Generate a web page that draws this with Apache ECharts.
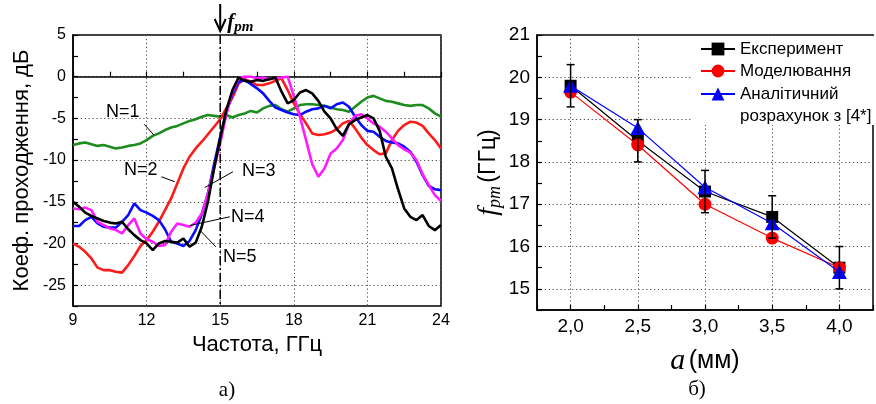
<!DOCTYPE html>
<html><head><meta charset="utf-8">
<script src="https://cdn.jsdelivr.net/npm/echarts@6/dist/echarts.min.js"></script>
<style>html,body{margin:0;padding:0;background:#fff}#c{width:876px;height:404px}</style>
</head><body><div id="c"></div><script>
// ---------- Panel a) data ----------
const freq = [
  9.00, 9.25, 9.50, 9.75, 10.00, 10.25, 10.50, 10.75, 11.00, 11.25, 11.50, 11.75,
  12.00, 12.25, 12.50, 12.75, 13.00, 13.25, 13.50, 13.75, 14.00, 14.25, 14.50, 14.75,
  15.00, 15.25, 15.50, 15.75, 16.00, 16.25, 16.50, 16.75, 17.00, 17.25, 17.50, 17.75,
  18.00, 18.25, 18.50, 18.75, 19.00, 19.25, 19.50, 19.75, 20.00, 20.25, 20.50, 20.75,
  21.00, 21.25, 21.50, 21.75, 22.00, 22.25, 22.50, 22.75, 23.00, 23.25, 23.50, 23.75, 24.00
];
const n1 = [
  -8.2,-8.0,-7.9,-8.1, -8.3,-8.2,-8.4,-8.6, -8.5,-8.3,-8.2,-8.0,
  -7.6,-7.1,-6.8,-6.4, -6.1,-5.9,-5.6,-5.3, -5.1,-4.8,-4.6,-4.7,
  -4.8,-4.6,-4.9,-4.6, -4.4,-4.1,-4.3,-3.8, -3.5,-3.4,-3.9,-4.2,
  -3.8,-3.4,-3.3,-3.3, -3.4,-3.5,-3.7,-3.9, -4.0,-4.2,-3.6,-3.0,
  -2.5,-2.3,-2.6,-2.9, -3.0,-3.2,-3.4,-3.5, -3.4,-3.4,-3.8,-4.4, -4.8
];
const n2 = [
  -20.0,-20.4,-21.0,-21.8, -22.9,-23.2,-23.2,-23.4, -23.5,-22.6,-21.5,-20.3,
  -19.6,-18.6,-17.4,-16.0, -14.6,-12.8,-11.0,-9.6, -8.6,-7.8,-6.9,-6.0,
  -5.1,-3.8,-2.5,-0.8, -0.3,-0.6,-1.0,-1.0, -0.8,-0.5,-0.2,-1.6,
  -3.2,-4.5,-5.6,-6.8, -7.0,-6.9,-6.7,-6.3, -5.6,-5.3,-6.2,-7.3,
  -8.2,-8.8,-9.3,-9.2, -7.6,-6.5,-5.8,-5.4, -5.5,-5.9,-6.8,-7.6, -8.6
];
const n3 = [
  -17.9,-17.9,-17.2,-16.8, -17.6,-18.0,-18.1,-18.1, -17.4,-16.6,-15.2,-16.0,
  -16.3,-16.7,-17.2,-18.3, -19.8,-20.0,-20.3,-19.7, -18.4,-16.5,-14.0,-10.5,
  -7.2,-4.2,-2.1,-0.6, -0.4,-0.9,-1.4,-2.0, -2.9,-3.7,-4.0,-4.3,
  -4.5,-4.6,-4.2,-3.9, -3.8,-3.5,-3.8,-3.3, -3.1,-3.6,-4.8,-5.8,
  -6.5,-6.6,-7.2,-7.7, -7.9,-8.0,-8.4,-9.0, -10.2,-11.8,-13.1,-13.5, -13.6
];
const n4 = [
  -15.8,-15.9,-15.7,-16.0, -17.4,-17.8,-18.2,-18.4, -18.8,-17.8,-17.0,-18.8,
  -19.5,-19.8,-20.3,-20.2, -18.6,-17.6,-17.8,-18.0, -17.5,-16.4,-14.0,-11.0,
  -8.0,-4.5,-1.8,-0.2, 0.0,0.0,-0.2,-0.1, -0.3,-0.2,-0.1,0.0,
  -2.3,-4.8,-7.6,-10.5, -12.0,-11.0,-9.2,-8.6, -7.6,-5.7,-4.7,-4.5,
  -5.0,-5.6,-6.0,-6.6, -7.4,-8.2,-8.7,-9.1, -10.0,-11.7,-13.0,-14.2, -14.9
];
const n5 = [
  -15.0,-15.6,-16.3,-16.7, -17.0,-17.3,-17.5,-17.6, -17.4,-18.3,-19.0,-19.6,
  -20.0,-20.8,-20.0,-19.7, -19.8,-19.9,-19.4,-20.4, -19.9,-18.0,-15.0,-11.0,
  -7.4,-4.0,-1.6,-0.1, -0.5,-0.6,-0.4,-0.5, -0.3,-0.1,-1.8,-3.2,
  -2.8,-1.9,-1.6,-2.0, -2.9,-4.2,-5.0,-6.3, -7.1,-5.7,-5.2,-4.9,
  -4.6,-5.0,-6.5,-9.6, -11.0,-13.5,-15.8,-16.8, -17.2,-16.6,-17.9,-18.4, -17.8
];
const curveNames = ['N=1', 'N=2', 'N=3', 'N=4', 'N=5'];
const curveColors = ['#1e8c1e', '#ff1a1a', '#0a0aff', '#ff1aff', '#000000'];
// label anchor (f, dB) and leader line from (f1, dB1) to (f2, dB2)
const labelF   = [11.03, 11.76, 16.57, 16.12, 15.80];
const labelDb  = [-4.2, -11.2, -11.3, -16.8, -21.6];
const leadF1   = [11.90, 12.60, 15.52, 15.39, 14.82];
const leadDb1  = [-5.7, -12.0, -11.4, -16.8, -20.4];
const leadF2   = [12.30, 13.15, 14.37, 13.76, 14.17];
const leadDb2  = [-7.0, -12.6, -13.3, -17.85, -18.4];
const fpm = 15;
const leftXTicks = [9, 12, 15, 18, 21, 24];
const leftYTicks = [-25, -20, -15, -10, -5, 0, 5];
const leftYMin = -27.5, leftYMax = 5;

// ---------- Panel б) data ----------
const aValues   = [2.0, 2.5, 3.0, 3.5, 4.0];
const expValues = [19.8, 18.5, 17.3, 16.7, 15.5];
const expError  = [0.5, 0.5, 0.5, 0.5, 0.5];
const simValues = [19.65, 18.4, 17.0, 16.2, 15.5];
const anaValues = [19.8, 18.8, 17.4, 16.55, 15.4];
const rightXTicks = [2.0, 2.5, 3.0, 3.5, 4.0];
const rightYTicks = [15, 16, 17, 18, 19, 20, 21];
const seriesNamesB = ['Експеримент', 'Моделювання', 'Аналітичний розрахунок з [4*]'];
const legendTextB = ['Експеримент', 'Моделювання', 'Аналітичний\nрозрахунок з [4*]'];

// ---------- chart ----------
const SANS = 'Liberation Sans';
const SERIF = 'Liberation Serif';
const inList = (list) => (v) => list.some(t => Math.abs(t - v) < 1e-6);
const GRIDCOL = ['rgba(0,0,0,0)', '#555'];
const axisLineStyle = {show: true, lineStyle: {color: '#000', width: 1.5}};
const tickStyle = {show: true, inside: true, length: 5, lineStyle: {color: '#000', width: 1.2}};
const dotted = {type: [1.3, 2.6], width: 1};

const chart = echarts.init(document.getElementById('c'), null, {renderer: 'canvas'});

const leftSeries = [n1, n2, n3, n4, n5].map((arr, k) => ({
  name: curveNames[k], type: 'line', xAxisIndex: 0, yAxisIndex: 0,
  data: freq.map((f, i) => [f, arr[i]]),
  symbol: 'none', smooth: false, z: 2 + k,
  lineStyle: {color: curveColors[k], width: 2.6},
  itemStyle: {color: curveColors[k]}
}));

const option = {
  animation: false,
  backgroundColor: '#fff',
  grid: [
    {left: 73, top: 35, width: 368, height: 271, show: true, borderColor: '#000', borderWidth: 1.5, backgroundColor: 'transparent'},
    {left: 537, top: 35, width: 343, height: 275, show: true, borderColor: '#000', borderWidth: 1.5, backgroundColor: 'transparent'}
  ],
  xAxis: [
    {
      type: 'value', gridIndex: 0, min: 9, max: 24, interval: 3,
      axisLine: axisLineStyle, axisTick: tickStyle,
      minorTick: {show: true, splitNumber: 2, length: 5, lineStyle: {color: '#000', width: 1.2}},
      axisLabel: {fontSize: 16, color: '#000', fontFamily: SANS, margin: 7,
        formatter: v => inList(leftXTicks)(v) ? String(v) : ''},
      splitLine: {show: true, lineStyle: Object.assign({color: '#555'}, dotted)},
      name: 'Частота, ГГц', nameLocation: 'middle', nameGap: 26,
      nameTextStyle: {fontSize: 22, color: '#000', fontFamily: SANS}
    },
    {
      type: 'value', gridIndex: 1, min: 1.75, max: 4.25, interval: 0.25,
      axisLine: axisLineStyle, axisTick: tickStyle,
      axisLabel: {fontSize: 19, color: '#000', fontFamily: SANS, margin: 7,
        formatter: v => inList(rightXTicks)(v) ? v.toFixed(1).replace('.', ',') : ''},
      splitLine: {show: true, lineStyle: Object.assign({color: GRIDCOL}, dotted)},
      name: '{a|a} {n|(мм)}', nameLocation: 'middle', nameGap: 36,
      nameTextStyle: {rich: {
        a: {fontSize: 30, fontStyle: 'italic', fontFamily: SERIF, color: '#000', lineHeight: 30},
        n: {fontSize: 25, fontFamily: SANS, color: '#000', lineHeight: 30}
      }}
    }
  ],
  yAxis: [
    {
      type: 'value', gridIndex: 0, min: leftYMin, max: leftYMax, interval: 2.5,
      axisLine: axisLineStyle, axisTick: tickStyle,
      axisLabel: {fontSize: 16, color: '#000', fontFamily: SANS, margin: 7,
        formatter: v => inList(leftYTicks)(v) ? String(v) : ''},
      splitLine: {show: true, lineStyle: Object.assign({color: GRIDCOL}, dotted)},
      name: 'Коеф. проходження, дБ', nameLocation: 'middle', nameGap: 40, nameRotate: 90,
      nameTextStyle: {fontSize: 22, color: '#000', fontFamily: SANS}
    },
    {
      type: 'value', gridIndex: 1, min: 14.5, max: 21, interval: 0.5,
      axisLine: axisLineStyle, axisTick: tickStyle,
      axisLabel: {fontSize: 19, color: '#000', fontFamily: SANS, margin: 7,
        formatter: v => inList(rightYTicks)(v) ? String(v) : ''},
      splitLine: {show: true, lineStyle: Object.assign({color: GRIDCOL}, dotted)},
      name: '{f|f}{s|pm} {n|(ГГц)}', nameLocation: 'middle', nameGap: 33, nameRotate: 90,
      nameTextStyle: {rich: {
        f: {fontSize: 28, fontStyle: 'italic', fontFamily: SERIF, color: '#000', lineHeight: 30},
        s: {fontSize: 18, fontStyle: 'italic', fontFamily: SERIF, color: '#000', lineHeight: 18, verticalAlign: 'bottom'},
        n: {fontSize: 23, fontFamily: SANS, color: '#000', lineHeight: 30}
      }}
    }
  ],
  legend: [0, 1, 2].map(k => ({
    data: [seriesNamesB[k]], orient: 'vertical', left: 700, top: [38, 60, 61][k],
    padding: 0, itemGap: 0, itemWidth: 34, itemHeight: 16,
    selectedMode: false,
    formatter: () => (k === 2 ? '\n' : '') + legendTextB[k],
    textStyle: {fontSize: 17, color: '#000', fontFamily: SANS, lineHeight: 22}
  })),
  graphic: [
    {type: 'rect', z: 1, shape: {x: 693, y: 36, width: 190, height: 89}, style: {fill: '#fff'}},
    {type: 'text', z: 10, x: 227, y: 390, style: {text: 'а)', font: '21px "Liberation Serif"', fill: '#000', align: 'center', verticalAlign: 'middle'}},
    {type: 'text', z: 10, x: 697, y: 389, style: {text: 'б)', font: '21px "Liberation Serif"', fill: '#000', align: 'center', verticalAlign: 'middle'}}
  ],
  series: leftSeries.concat([
    {
      name: 'labels', type: 'custom', xAxisIndex: 0, yAxisIndex: 0, z: 10, silent: true, clip: false,
      data: curveNames.map((t, i) => [labelF[i], labelDb[i], leadF1[i], leadDb1[i], leadF2[i], leadDb2[i]]),
      renderItem: (params, api) => {
        const t = api.coord([api.value(0), api.value(1)]);
        const a = api.coord([api.value(2), api.value(3)]);
        const b = api.coord([api.value(4), api.value(5)]);
        return {type: 'group', children: [
          {type: 'line', shape: {x1: a[0], y1: a[1], x2: b[0], y2: b[1]}, style: {stroke: '#000', lineWidth: 1}},
          {type: 'text', x: t[0], y: t[1], style: {text: curveNames[params.dataIndex], font: '18px "Liberation Sans"', fill: '#000', align: 'center', verticalAlign: 'middle'}}
        ]};
      }
    },
    {
      name: 'fpm', type: 'custom', xAxisIndex: 0, yAxisIndex: 0, z: 11, silent: true, clip: false,
      data: [[fpm]],
      renderItem: (params, api) => {
        const top = api.coord([api.value(0), leftYMax]);
        const bot = api.coord([api.value(0), leftYMin]);
        const x = top[0];
        return {type: 'group', children: [
          {type: 'line', shape: {x1: x, y1: top[1], x2: x, y2: bot[1]}, style: {stroke: '#000', lineWidth: 1.5, lineDash: [9, 3, 2, 3]}},
          {type: 'line', shape: {x1: x, y1: top[1] - 31, x2: x, y2: top[1] - 4}, style: {stroke: '#000', lineWidth: 2}},
          {type: 'polyline', shape: {points: [[x - 5.5, top[1] - 16], [x, top[1] - 4], [x + 5.5, top[1] - 16]]}, style: {stroke: '#000', lineWidth: 2, fill: null}},
          {type: 'text', x: x + 7, y: top[1] - 12, style: {
            text: '{f|f}{s|pm}', align: 'left', verticalAlign: 'middle',
            rich: {
              f: {fontSize: 21, fontStyle: 'italic', fontWeight: 'bold', fontFamily: SERIF, fill: '#000', lineHeight: 24},
              s: {fontSize: 15, fontStyle: 'italic', fontWeight: 'bold', fontFamily: SERIF, fill: '#000', lineHeight: 16, verticalAlign: 'bottom'}
            }
          }}
        ]};
      }
    },
    {
      name: seriesNamesB[0], type: 'line', xAxisIndex: 1, yAxisIndex: 1, z: 3,
      data: aValues.map((a, i) => [a, expValues[i]]),
      symbol: 'rect', symbolSize: 12,
      itemStyle: {color: '#000'}, lineStyle: {color: '#000', width: 1.2}
    },
    {
      name: seriesNamesB[1], type: 'line', xAxisIndex: 1, yAxisIndex: 1, z: 4,
      data: aValues.map((a, i) => [a, simValues[i]]),
      symbol: 'circle', symbolSize: 13,
      itemStyle: {color: '#ff0000'}, lineStyle: {color: '#ff0000', width: 1.2}
    },
    {
      name: seriesNamesB[2], type: 'line', xAxisIndex: 1, yAxisIndex: 1, z: 5,
      data: aValues.map((a, i) => [a, anaValues[i]]),
      symbol: 'triangle', symbolSize: [15, 14],
      itemStyle: {color: '#0000ff'}, lineStyle: {color: '#0000ff', width: 1.2}
    },
    {
      name: 'errors', type: 'custom', xAxisIndex: 1, yAxisIndex: 1, z: 6, silent: true,
      data: aValues.map((a, i) => [a, expValues[i] - expError[i], expValues[i] + expError[i]]),
      renderItem: (params, api) => {
        const lo = api.coord([api.value(0), api.value(1)]);
        const hi = api.coord([api.value(0), api.value(2)]);
        const w = 4;
        const st = {stroke: '#000', lineWidth: 1.5};
        return {type: 'group', children: [
          {type: 'line', shape: {x1: lo[0], y1: lo[1], x2: hi[0], y2: hi[1]}, style: st},
          {type: 'line', shape: {x1: lo[0] - w, y1: lo[1], x2: lo[0] + w, y2: lo[1]}, style: st},
          {type: 'line', shape: {x1: hi[0] - w, y1: hi[1], x2: hi[0] + w, y2: hi[1]}, style: st}
        ]};
      }
    }
  ])
};
chart.setOption(option);
</script></body></html>
